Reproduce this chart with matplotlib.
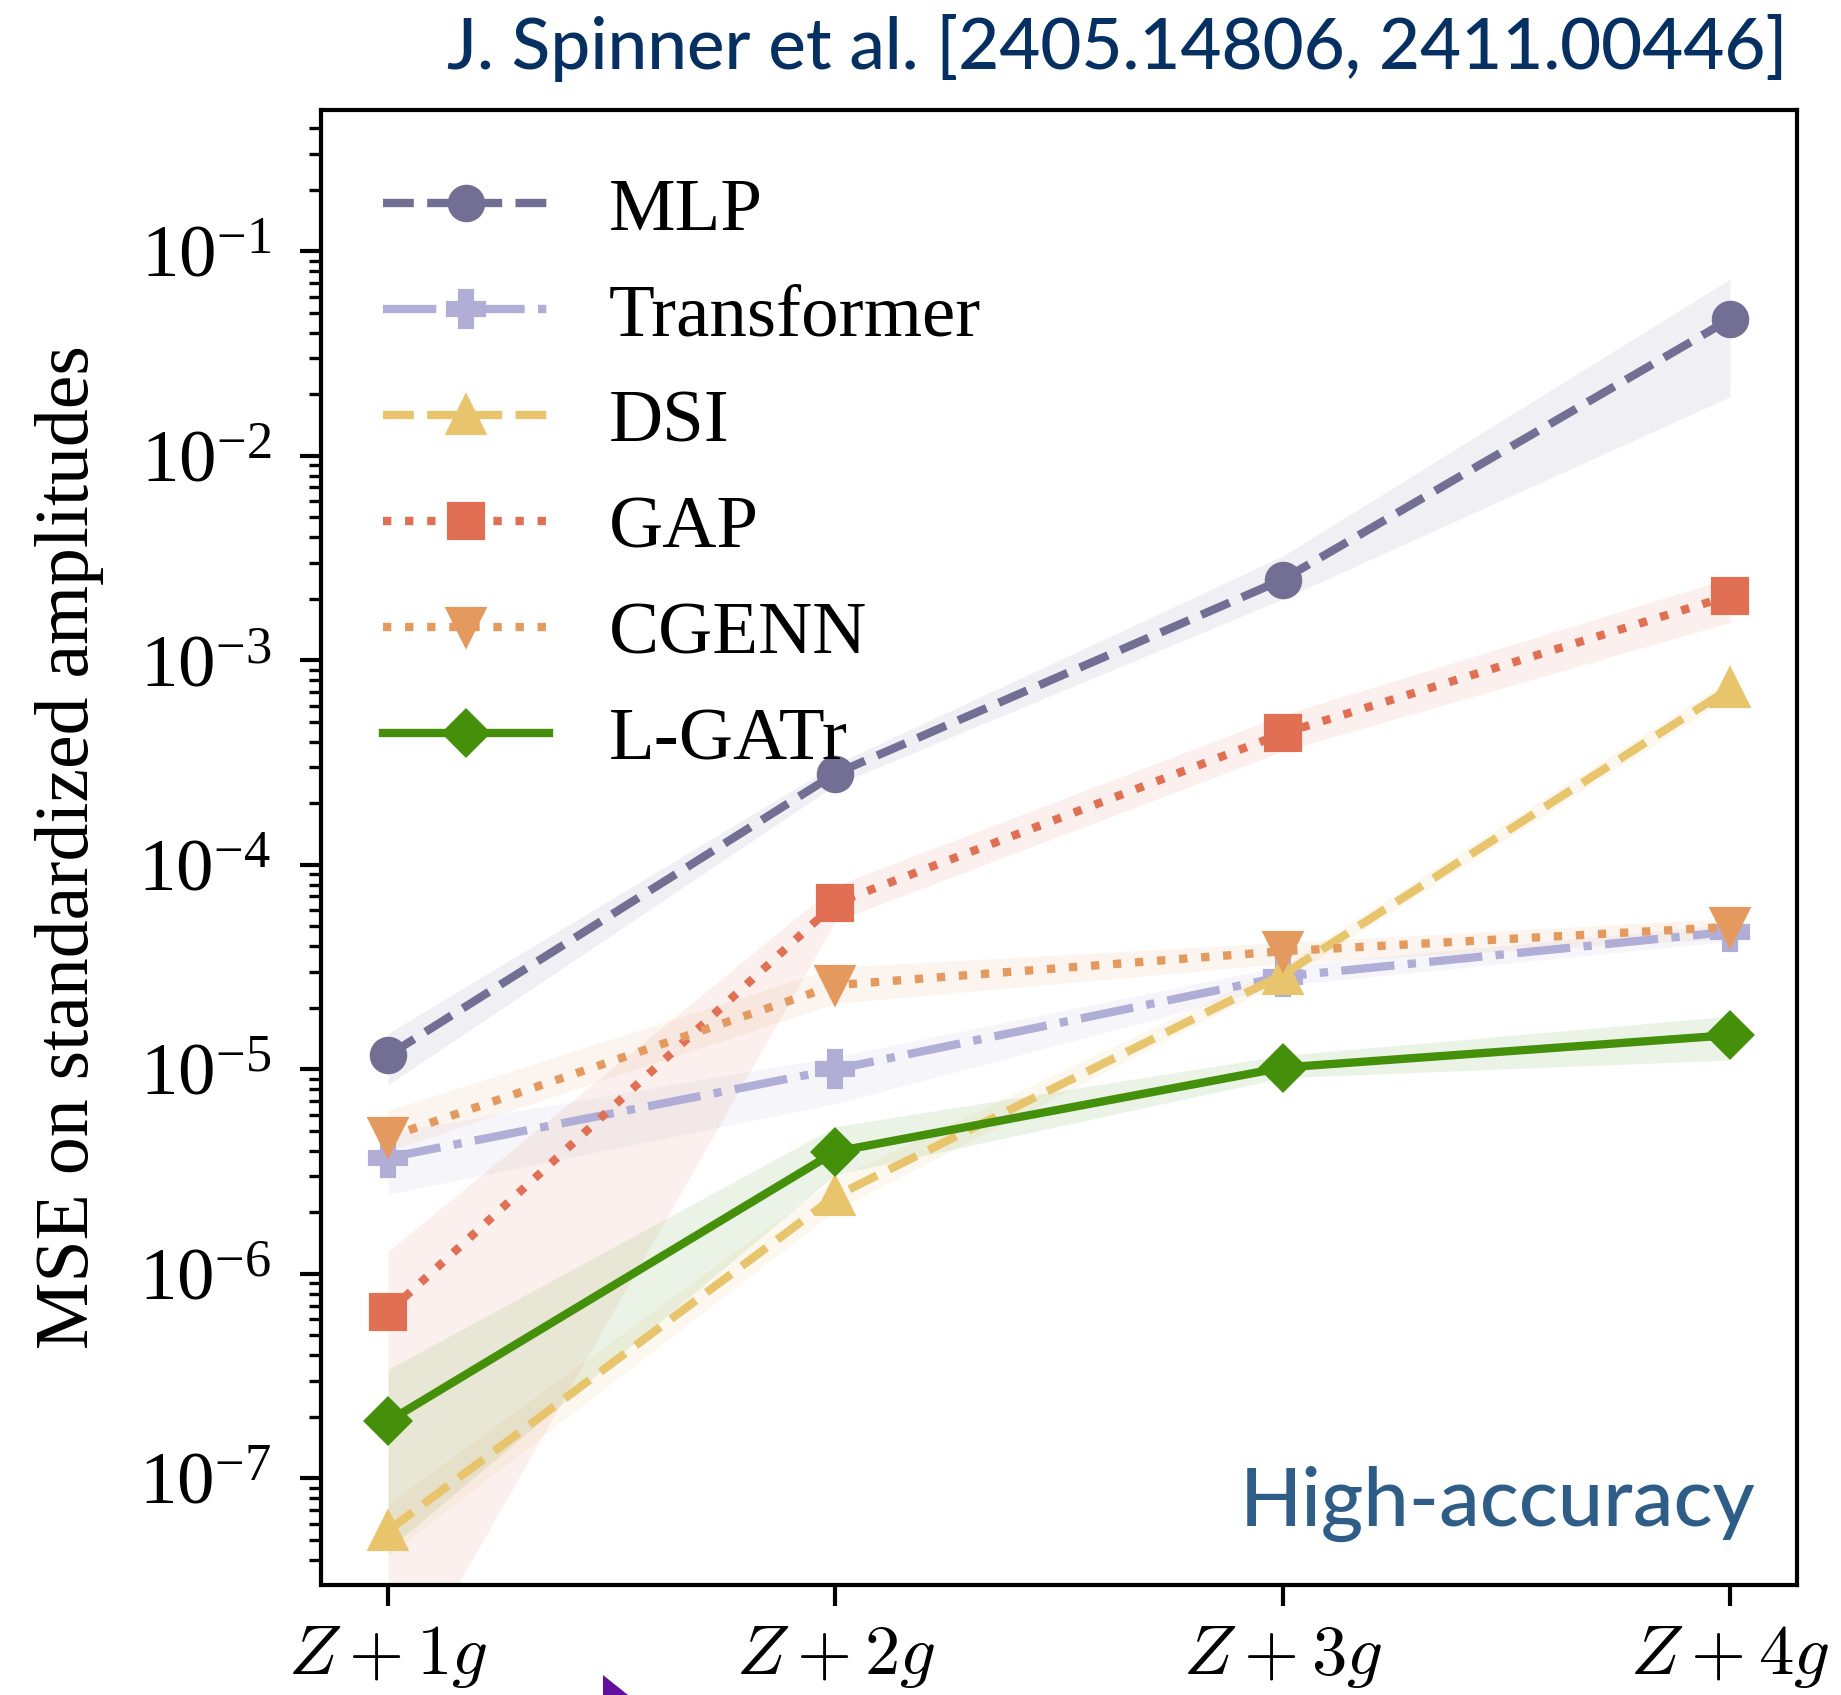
import matplotlib
matplotlib.use("Agg")
import matplotlib.pyplot as plt
from matplotlib.patches import Polygon
from matplotlib.ticker import LogLocator, NullFormatter, LogFormatterSciNotation

plt.rcParams['mathtext.fontset'] = 'cm'
plt.rcParams['font.family'] = ['Liberation Serif', 'DejaVu Serif']

# ---------------- data ----------------
categories = [r'$Z+1g$', r'$Z+2g$', r'$Z+3g$', r'$Z+4g$']
models = ['MLP', 'Transformer', 'DSI', 'GAP', 'CGENN', 'L-GATr']
ytick_values = [1e-7, 1e-6, 1e-5, 1e-4, 1e-3, 1e-2, 1e-1]

mlp_mean = [1.17e-5, 2.79e-4, 2.48e-3, 4.65e-2]
mlp_lo = [8.4e-6, 2.45e-4, 1.99e-3, 1.94e-2]
mlp_hi = [1.50e-5, 3.1e-4, 3.23e-3, 7.3e-2]

trf_mean = [3.70e-6, 1.00e-5, 2.84e-5, 4.71e-5]
trf_lo = [2.45e-6, 6.8e-6, 2.57e-5, 4.23e-5]
trf_hi = [4.9e-6, 1.15e-5, 3.2e-5, 5.13e-5]

dsi_mean = [5.56e-8, 2.40e-6, 2.90e-5, 7.28e-4]
dsi_lo = [4.2e-8, 2.04e-6, 2.7e-5, 6.6e-4]
dsi_hi = [7.5e-8, 2.93e-6, 3.2e-5, 8.1e-4]

gap_mean = [6.49e-7, 6.49e-5, 4.39e-4, 2.07e-3]
gap_lo = [7.6e-9, 5.3e-5, 3.59e-4, 1.53e-3]
gap_hi = [1.29e-6, 7.9e-5, 5.4e-4, 2.53e-3]

cgenn_mean = [4.66e-6, 2.58e-5, 3.78e-5, 4.97e-5]
cgenn_lo = [4.0e-6, 2.1e-5, 3.29e-5, 4.36e-5]
cgenn_hi = [6.3e-6, 3.15e-5, 4.17e-5, 5.47e-5]

lgatr_mean = [1.90e-7, 3.96e-6, 1.02e-5, 1.47e-5]
lgatr_lo = [4.5e-8, 3.05e-6, 9.1e-6, 1.11e-5]
lgatr_hi = [3.41e-7, 5.25e-6, 1.17e-5, 1.82e-5]

means = [mlp_mean, trf_mean, dsi_mean, gap_mean, cgenn_mean, lgatr_mean]
lows = [mlp_lo, trf_lo, dsi_lo, gap_lo, cgenn_lo, lgatr_lo]
highs = [mlp_hi, trf_hi, dsi_hi, gap_hi, cgenn_hi, lgatr_hi]

colors = ['#736e94', '#b0aed6', '#e8c46c', '#e06f53', '#e49a5f', '#44900a']
markers = ['o', 'P', '^', 's', 'v', 'D']
styles = ['--', '-.', '--', ':', ':', '-']
msizes = [8, 8.5, 8.5, 8, 8.5, 7.5]

W, H = 1841, 1695
DPI = 300
fig = plt.figure(figsize=(W / DPI, H / DPI), dpi=DPI)
ax = fig.add_axes([321 / W, 1 - 1584.5 / H, (1797 - 321) / W, (1584.5 - 110) / H])

x = list(range(len(categories)))
for name, m, lo, hi, c, mk, ls, ms in zip(models, means, lows, highs, colors,
                                          markers, styles, msizes):
    ax.fill_between(x, lo, hi, color=c, alpha=0.1, linewidth=0)
    ax.plot(x, m, color=c, marker=mk, linestyle=ls, lw=2, markersize=ms,
            markeredgecolor=c, label=name)

ax.set_yscale('log')
ax.set_xlim(-0.15, 3.15)
ax.set_ylim(3.03e-8, 0.49)
ax.set_xticks(x)
ax.set_xticklabels(categories)
ax.set_yticks(ytick_values)
ax.yaxis.set_major_formatter(LogFormatterSciNotation())
ax.yaxis.set_minor_locator(LogLocator(base=10, subs=[i for i in range(2, 10)], numticks=20))
ax.yaxis.set_minor_formatter(NullFormatter())

ax.tick_params(axis='both', which='major', length=5, width=1, direction='out')
ax.tick_params(axis='y', which='major', labelsize=18, pad=7)
ax.tick_params(axis='x', which='major', labelsize=17, pad=4.5)
ax.tick_params(axis='y', which='minor', length=2.8, width=0.8, direction='out')
for s in ax.spines.values():
    s.set_linewidth(1.0)

ax.set_ylabel('MSE on standardized amplitudes', fontsize=18.2)
ax.yaxis.set_label_coords(-0.147, 0.5)

leg = ax.legend(loc='upper left', bbox_to_anchor=(383 / W, 1 - 177 / H),
                bbox_transform=fig.transFigure, frameon=False, fontsize=18,
                handlelength=2.21, handletextpad=0.8, labelspacing=0.5,
                borderpad=0, borderaxespad=0)

ax.text(0.9715, 0.0397, 'High-accuracy', transform=ax.transAxes, ha='right',
        va='baseline', fontsize=19.5, color='#2e5e88', family='Lato',
        fontweight='medium')

fig.text(1787 / W, 1 - 69 / H, 'J. Spinner et al. [2405.14806, 2411.00446]',
         ha='right', va='baseline', fontsize=17, color='#053061', family='Lato',
         fontweight='medium')

fig.add_artist(Polygon([[602.7 / W, 1 - 1675 / H], [602.7 / W, 0.0], [628.3 / W, 0.0]],
                       closed=True, transform=fig.transFigure, facecolor='#640fa0',
                       edgecolor='none'))

fig.savefig('out.png', dpi=DPI)
